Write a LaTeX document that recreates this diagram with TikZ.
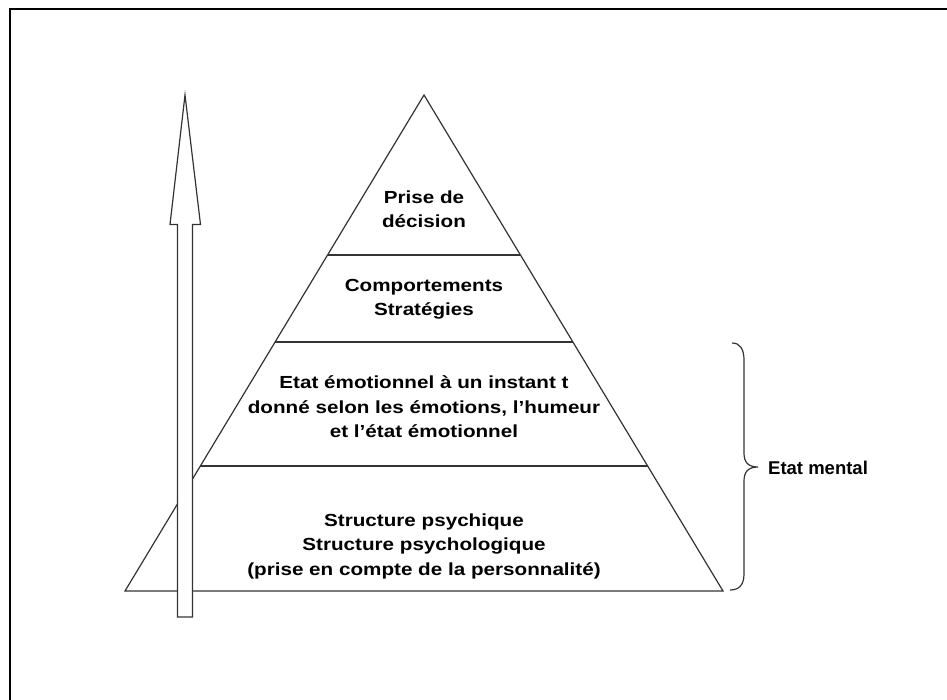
\documentclass[tikz,border=0pt]{standalone}
\usepackage{fontspec}
\setmainfont{Liberation Sans}
\newfontfamily\pyrfont[FakeStretch=1.18]{Liberation Sans}
\usetikzlibrary{calc}

\tikzset{
  frameline/.style={line width=2.2pt, black},
  pyrline/.style={line width=1.2pt, draw=black!80},
  level/.style={font=\pyrfont\bfseries\fontsize{17.5}{24.5}\selectfont, align=center, inner sep=0pt, text=black},
  sidelabel/.style={font=\bfseries\fontsize{18.5}{21}\selectfont, anchor=west, inner sep=0pt, text=black},
  blockarrow/.style={line width=1.2pt, draw=black!80, fill=white, line join=miter},
  bracestroke/.style={line width=1.2pt, draw=black!80}
}

\begin{document}
\begin{tikzpicture}[x=1pt, y=-1pt]
  \useasboundingbox (0,0) rectangle (947,699);
  \clip (0,0) rectangle (947,699);

  % outer frame, only its top and left edges fall inside the page
  \draw[frameline] (10,720) -- (10,9) -- (960,9);

  % pyramid outline
  \coordinate (apex) at (424,95);
  \coordinate (bl) at (125,591);
  \coordinate (br) at (723,591);
  \draw[pyrline, line join=miter] (bl) -- (apex) -- (br) -- cycle;

  % level separators
  \coordinate (s1l) at ($(apex)!0.3226!(bl)$);
  \coordinate (s1r) at ($(apex)!0.3226!(br)$);
  \coordinate (s2l) at ($(apex)!0.4980!(bl)$);
  \coordinate (s2r) at ($(apex)!0.4980!(br)$);
  \coordinate (s3l) at ($(apex)!0.7480!(bl)$);
  \coordinate (s3r) at ($(apex)!0.7480!(br)$);
  \draw[pyrline] (s1l) -- (s1r);
  \draw[pyrline] (s2l) -- (s2r);
  \draw[pyrline] (s3l) -- (s3r);

  % level texts
  \node[level] (decision) at (424,209) {Prise de\\décision};
  \node[level] (comport) at (424,299) {Comportements\\Stratégies};
  \node[level] (emotion) at (424,407) {Etat émotionnel à un instant t\\donné selon les émotions, l’humeur\\et l’état émotionnel};
  \node[level] (structure) at (424,546) {Structure psychique\\Structure psychologique\\(prise en compte de la personnalité)};

  % upward block arrow
  \coordinate (tip) at (185,95);
  \coordinate (hl) at (170,224.5);
  \coordinate (hr) at (200.5,224.5);
  \coordinate (shl) at (177.5,224.5);
  \coordinate (shr) at (192.5,224.5);
  \coordinate (bsl) at (177.5,617);
  \coordinate (bsr) at (192.5,617);
  \draw[blockarrow] (bsl) -- (shl) -- (hl) -- (tip) -- (hr) -- (shr) -- (bsr) -- cycle;

  % right brace spanning the two lower levels
  \coordinate (btop) at (732,343);
  \coordinate (bbot) at (730,590);
  \coordinate (bpoint) at (758,467);
  \draw[bracestroke]
    (btop) .. controls (740,343) and (744,349) .. (744,360)
    -- (744,453) .. controls (744,462) and (748,467) .. (bpoint)
    .. controls (748,467) and (744,472) .. (744,481)
    -- (744,574) .. controls (744,585) and (739,590) .. (bbot);
  \node[sidelabel] (mental) at (768,468) {Etat mental};
\end{tikzpicture}
\end{document}
